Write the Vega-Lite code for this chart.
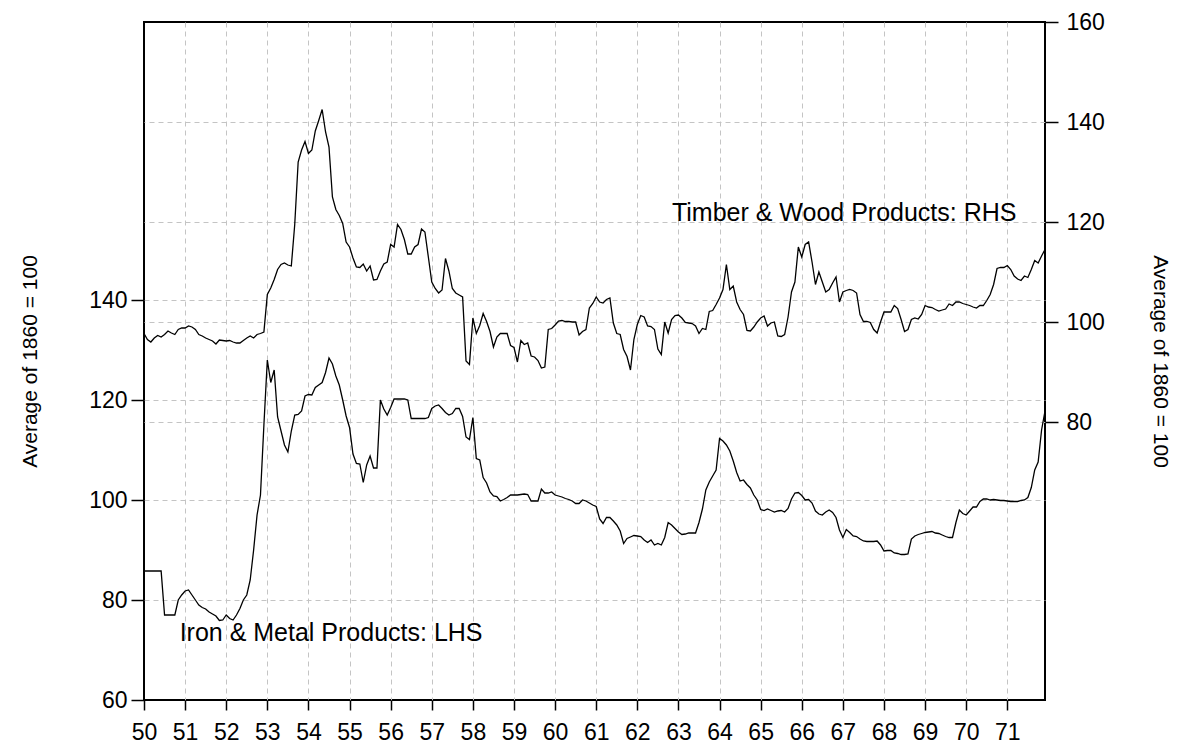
{
  "$schema": "https://vega.github.io/schema/vega-lite/v6.json",
  "width": 901,
  "height": 678,
  "autosize": {"type": "none"},
  "padding": {"left": 144, "top": 22, "right": 137, "bottom": 44},
  "background": "white",
  "config": {
    "view": {"stroke": "black", "strokeWidth": 2},
    "font": "Liberation Sans",
    "axis": {
      "labelFont": "Liberation Sans", "labelFontSize": 23, "labelColor": "black",
      "titleFont": "Liberation Sans", "titleFontSize": 21, "titleFontWeight": "normal", "titleColor": "black",
      "tickColor": "black", "tickWidth": 1.5, "domain": false,
      "gridColor": "#c4c4c4", "gridDash": [5, 4], "gridWidth": 1,
      "labelOverlap": false, "labelFlush": false
    }
  },
  "datasets": {
    "series": [
      {"m":0,"iron":85.8,"timber":97.7},{"m":1,"iron":85.8,"timber":96.5},{"m":2,"iron":85.8,"timber":96.0},{"m":3,"iron":85.8,"timber":96.8},{"m":4,"iron":85.8,"timber":97.3},{"m":5,"iron":85.8,"timber":97.0},{"m":6,"iron":77.0,"timber":97.5},{"m":7,"iron":77.0,"timber":98.2},{"m":8,"iron":77.0,"timber":97.8},{"m":9,"iron":77.0,"timber":97.5},{"m":10,"iron":80.0,"timber":98.5},{"m":11,"iron":81.0,"timber":98.8},
      {"m":12,"iron":81.8,"timber":98.8},{"m":13,"iron":82.0,"timber":99.2},{"m":14,"iron":81.0,"timber":99.0},{"m":15,"iron":80.0,"timber":98.5},{"m":16,"iron":79.0,"timber":97.5},{"m":17,"iron":78.5,"timber":97.2},{"m":18,"iron":78.2,"timber":96.8},{"m":19,"iron":77.6,"timber":96.5},{"m":20,"iron":77.2,"timber":96.2},{"m":21,"iron":76.8,"timber":95.6},{"m":22,"iron":75.9,"timber":96.4},{"m":23,"iron":76.0,"timber":96.3},
      {"m":24,"iron":77.0,"timber":96.2},{"m":25,"iron":76.3,"timber":96.3},{"m":26,"iron":76.0,"timber":96.0},{"m":27,"iron":77.0,"timber":95.8},{"m":28,"iron":78.3,"timber":95.8},{"m":29,"iron":80.0,"timber":96.3},{"m":30,"iron":81.0,"timber":96.8},{"m":31,"iron":84.0,"timber":97.2},{"m":32,"iron":90.0,"timber":96.8},{"m":33,"iron":97.0,"timber":97.5},{"m":34,"iron":101.0,"timber":97.7},{"m":35,"iron":115.0,"timber":98.0},
      {"m":36,"iron":128.0,"timber":105.5},{"m":37,"iron":123.5,"timber":106.8},{"m":38,"iron":126.0,"timber":108.5},{"m":39,"iron":116.6,"timber":110.5},{"m":40,"iron":113.8,"timber":111.5},{"m":41,"iron":111.0,"timber":111.8},{"m":42,"iron":109.6,"timber":111.4},{"m":43,"iron":113.8,"timber":111.2},{"m":44,"iron":117.0,"timber":119.5},{"m":45,"iron":117.1,"timber":132.0},{"m":46,"iron":117.8,"timber":134.4},{"m":47,"iron":120.8,"timber":136.1},
      {"m":48,"iron":121.1,"timber":133.7},{"m":49,"iron":121.0,"timber":134.4},{"m":50,"iron":122.5,"timber":138.2},{"m":51,"iron":123.0,"timber":140.3},{"m":52,"iron":123.5,"timber":142.5},{"m":53,"iron":125.5,"timber":138.0},{"m":54,"iron":128.4,"timber":135.0},{"m":55,"iron":127.2,"timber":125.0},{"m":56,"iron":124.8,"timber":122.5},{"m":57,"iron":123.0,"timber":121.3},{"m":58,"iron":120.0,"timber":119.7},{"m":59,"iron":116.8,"timber":116.0},
      {"m":60,"iron":114.5,"timber":115.0},{"m":61,"iron":109.2,"timber":112.8},{"m":62,"iron":107.3,"timber":111.0},{"m":63,"iron":107.2,"timber":110.9},{"m":64,"iron":103.5,"timber":111.6},{"m":65,"iron":107.0,"timber":110.2},{"m":66,"iron":108.8,"timber":111.2},{"m":67,"iron":106.4,"timber":108.4},{"m":68,"iron":106.4,"timber":108.5},{"m":69,"iron":120.0,"timber":110.2},{"m":70,"iron":118.2,"timber":111.6},{"m":71,"iron":117.0,"timber":112.0},
      {"m":72,"iron":118.5,"timber":115.5},{"m":73,"iron":120.2,"timber":115.0},{"m":74,"iron":120.2,"timber":119.5},{"m":75,"iron":120.2,"timber":118.5},{"m":76,"iron":120.2,"timber":116.5},{"m":77,"iron":120.0,"timber":113.6},{"m":78,"iron":116.3,"timber":113.6},{"m":79,"iron":116.3,"timber":115.0},{"m":80,"iron":116.3,"timber":115.5},{"m":81,"iron":116.3,"timber":118.6},{"m":82,"iron":116.3,"timber":118.0},{"m":83,"iron":116.5,"timber":113.0},
      {"m":84,"iron":118.3,"timber":108.0},{"m":85,"iron":118.8,"timber":106.7},{"m":86,"iron":119.0,"timber":105.8},{"m":87,"iron":118.3,"timber":106.4},{"m":88,"iron":117.5,"timber":112.7},{"m":89,"iron":117.0,"timber":110.2},{"m":90,"iron":117.3,"timber":106.7},{"m":91,"iron":118.3,"timber":105.8},{"m":92,"iron":118.3,"timber":105.4},{"m":93,"iron":116.7,"timber":105.0},{"m":94,"iron":112.6,"timber":92.2},{"m":95,"iron":112.1,"timber":91.5},
      {"m":96,"iron":116.5,"timber":100.8},{"m":97,"iron":108.3,"timber":97.7},{"m":98,"iron":108.0,"timber":99.3},{"m":99,"iron":104.5,"timber":101.7},{"m":100,"iron":103.4,"timber":100.1},{"m":101,"iron":101.6,"timber":98.1},{"m":102,"iron":100.8,"timber":95.0},{"m":103,"iron":100.7,"timber":97.0},{"m":104,"iron":99.8,"timber":97.7},{"m":105,"iron":100.1,"timber":97.7},{"m":106,"iron":100.5,"timber":97.7},{"m":107,"iron":101.0,"timber":95.3},
      {"m":108,"iron":101.0,"timber":94.9},{"m":109,"iron":101.0,"timber":92.0},{"m":110,"iron":101.1,"timber":96.3},{"m":111,"iron":101.2,"timber":95.5},{"m":112,"iron":101.1,"timber":95.8},{"m":113,"iron":99.8,"timber":93.2},{"m":114,"iron":99.8,"timber":93.0},{"m":115,"iron":99.8,"timber":92.3},{"m":116,"iron":102.2,"timber":90.8},{"m":117,"iron":101.4,"timber":91.0},{"m":118,"iron":101.4,"timber":98.5},{"m":119,"iron":101.6,"timber":98.7},
      {"m":120,"iron":101.0,"timber":99.4},{"m":121,"iron":100.8,"timber":100.2},{"m":122,"iron":100.6,"timber":100.3},{"m":123,"iron":100.3,"timber":100.1},{"m":124,"iron":100.1,"timber":100.1},{"m":125,"iron":99.8,"timber":100.0},{"m":126,"iron":99.3,"timber":100.0},{"m":127,"iron":99.3,"timber":97.4},{"m":128,"iron":100.0,"timber":98.1},{"m":129,"iron":99.8,"timber":98.5},{"m":130,"iron":99.4,"timber":102.8},{"m":131,"iron":99.0,"timber":103.7},
      {"m":132,"iron":98.7,"timber":105.0},{"m":133,"iron":96.2,"timber":104.0},{"m":134,"iron":95.3,"timber":103.8},{"m":135,"iron":96.5,"timber":104.5},{"m":136,"iron":96.5,"timber":104.8},{"m":137,"iron":95.8,"timber":99.8},{"m":138,"iron":95.0,"timber":97.7},{"m":139,"iron":93.8,"timber":97.5},{"m":140,"iron":91.3,"timber":94.5},{"m":141,"iron":92.3,"timber":93.1},{"m":142,"iron":92.6,"timber":90.4},{"m":143,"iron":92.9,"timber":96.5},
      {"m":144,"iron":92.8,"timber":99.5},{"m":145,"iron":92.7,"timber":101.3},{"m":146,"iron":92.0,"timber":101.0},{"m":147,"iron":91.5,"timber":99.2},{"m":148,"iron":92.0,"timber":99.1},{"m":149,"iron":91.0,"timber":98.5},{"m":150,"iron":91.3,"timber":94.6},{"m":151,"iron":91.0,"timber":93.5},{"m":152,"iron":92.5,"timber":100.0},{"m":153,"iron":95.5,"timber":97.8},{"m":154,"iron":95.0,"timber":100.5},{"m":155,"iron":94.3,"timber":101.3},
      {"m":156,"iron":93.6,"timber":101.4},{"m":157,"iron":93.1,"timber":100.8},{"m":158,"iron":93.2,"timber":99.9},{"m":159,"iron":93.4,"timber":99.8},{"m":160,"iron":93.4,"timber":99.7},{"m":161,"iron":93.4,"timber":99.2},{"m":162,"iron":95.5,"timber":97.7},{"m":163,"iron":98.2,"timber":98.7},{"m":164,"iron":102.0,"timber":98.5},{"m":165,"iron":103.6,"timber":102.1},{"m":166,"iron":104.8,"timber":102.3},{"m":167,"iron":106.0,"timber":103.5},
      {"m":168,"iron":112.3,"timber":104.8},{"m":169,"iron":111.8,"timber":106.5},{"m":170,"iron":111.0,"timber":111.5},{"m":171,"iron":109.8,"timber":106.5},{"m":172,"iron":107.8,"timber":107.2},{"m":173,"iron":105.5,"timber":104.0},{"m":174,"iron":103.8,"timber":102.5},{"m":175,"iron":104.0,"timber":101.5},{"m":176,"iron":103.1,"timber":98.3},{"m":177,"iron":102.4,"timber":98.2},{"m":178,"iron":101.0,"timber":99.0},{"m":179,"iron":100.0,"timber":100.0},
      {"m":180,"iron":98.1,"timber":100.8},{"m":181,"iron":97.9,"timber":101.2},{"m":182,"iron":98.2,"timber":99.2},{"m":183,"iron":97.9,"timber":99.8},{"m":184,"iron":97.6,"timber":100.0},{"m":185,"iron":97.8,"timber":97.2},{"m":186,"iron":97.9,"timber":97.1},{"m":187,"iron":97.6,"timber":97.5},{"m":188,"iron":98.3,"timber":101.0},{"m":189,"iron":100.2,"timber":106.0},{"m":190,"iron":101.4,"timber":108.0},{"m":191,"iron":101.5,"timber":115.0},
      {"m":192,"iron":100.9,"timber":113.0},{"m":193,"iron":100.0,"timber":115.5},{"m":194,"iron":100.1,"timber":116.0},{"m":195,"iron":99.4,"timber":112.0},{"m":196,"iron":97.8,"timber":107.5},{"m":197,"iron":97.2,"timber":110.0},{"m":198,"iron":97.0,"timber":108.0},{"m":199,"iron":97.6,"timber":106.0},{"m":200,"iron":98.0,"timber":106.5},{"m":201,"iron":97.5,"timber":107.8},{"m":202,"iron":96.5,"timber":109.0},{"m":203,"iron":94.0,"timber":104.0},
      {"m":204,"iron":92.5,"timber":106.0},{"m":205,"iron":94.1,"timber":106.3},{"m":206,"iron":93.5,"timber":106.5},{"m":207,"iron":92.8,"timber":106.3},{"m":208,"iron":92.7,"timber":105.8},{"m":209,"iron":92.2,"timber":101.5},{"m":210,"iron":91.8,"timber":100.1},{"m":211,"iron":91.7,"timber":100.1},{"m":212,"iron":91.7,"timber":99.9},{"m":213,"iron":91.7,"timber":98.5},{"m":214,"iron":91.8,"timber":97.8},{"m":215,"iron":91.0,"timber":100.0},
      {"m":216,"iron":89.8,"timber":102.0},{"m":217,"iron":89.9,"timber":102.0},{"m":218,"iron":89.9,"timber":102.0},{"m":219,"iron":89.4,"timber":103.3},{"m":220,"iron":89.3,"timber":102.7},{"m":221,"iron":89.1,"timber":100.5},{"m":222,"iron":89.1,"timber":98.1},{"m":223,"iron":89.2,"timber":98.5},{"m":224,"iron":92.2,"timber":100.5},{"m":225,"iron":92.8,"timber":100.8},{"m":226,"iron":93.1,"timber":100.6},{"m":227,"iron":93.3,"timber":101.5},
      {"m":228,"iron":93.5,"timber":103.3},{"m":229,"iron":93.6,"timber":103.0},{"m":230,"iron":93.7,"timber":102.9},{"m":231,"iron":93.4,"timber":102.5},{"m":232,"iron":93.3,"timber":102.2},{"m":233,"iron":93.0,"timber":102.4},{"m":234,"iron":92.7,"timber":102.6},{"m":235,"iron":92.5,"timber":103.6},{"m":236,"iron":92.5,"timber":103.3},{"m":237,"iron":95.5,"timber":104.0},{"m":238,"iron":98.0,"timber":104.0},{"m":239,"iron":97.3,"timber":103.7},
      {"m":240,"iron":97.0,"timber":103.5},{"m":241,"iron":97.8,"timber":103.3},{"m":242,"iron":98.6,"timber":103.0},{"m":243,"iron":98.6,"timber":102.8},{"m":244,"iron":99.7,"timber":103.3},{"m":245,"iron":100.2,"timber":103.3},{"m":246,"iron":100.2,"timber":104.3},{"m":247,"iron":100.0,"timber":105.5},{"m":248,"iron":100.1,"timber":107.5},{"m":249,"iron":100.0,"timber":110.7},{"m":250,"iron":99.9,"timber":110.9},{"m":251,"iron":99.9,"timber":110.9},
      {"m":252,"iron":99.8,"timber":111.3},{"m":253,"iron":99.7,"timber":110.5},{"m":254,"iron":99.7,"timber":109.2},{"m":255,"iron":99.7,"timber":108.6},{"m":256,"iron":99.9,"timber":108.3},{"m":257,"iron":100.0,"timber":109.2},{"m":258,"iron":100.5,"timber":108.9},{"m":259,"iron":102.5,"timber":110.5},{"m":260,"iron":106.0,"timber":112.3},{"m":261,"iron":107.6,"timber":111.8},{"m":262,"iron":114.0,"timber":113.2},{"m":263,"iron":117.8,"timber":114.5}
    ],
    "ironLabel": [{"m": 10.4, "iron": 73.4, "label": "Iron & Metal Products: LHS"}],
    "timberLabel": [{"m": 154.1, "timber": 121.8, "label": "Timber & Wood Products: RHS"}]
  },
  "encoding": {
    "x": {
      "field": "m", "type": "quantitative",
      "scale": {"domain": [0, 263], "nice": false, "zero": false},
      "axis": {
        "title": null,
        "values": [0,12,24,36,48,60,72,84,96,108,120,132,144,156,168,180,192,204,216,228,240,252],
        "labelExpr": "format(50 + datum.value / 12, 'd')",
        "tickSize": 10, "labelPadding": 11, "grid": true,
        "gridOpacity": {"condition": {"test": "datum.value === 0", "value": 0}, "value": 1}
      }
    }
  },
  "layer": [
    {
      "layer": [
        {
          "data": {"name": "series"},
          "mark": {"type": "line", "color": "black", "strokeWidth": 1.3},
          "encoding": {
            "y": {
              "field": "iron", "type": "quantitative",
              "scale": {"domain": [60, 195.6], "nice": false, "zero": false},
              "axis": {
                "title": "Average of 1860 = 100", "orient": "left",
                "values": [60, 80, 100, 120, 140],
                "tickSize": 13, "labelPadding": 4, "titlePadding": 48, "grid": true,
                "gridOpacity": {"condition": {"test": "datum.value === 60", "value": 0}, "value": 1}
              }
            }
          }
        },
        {
          "data": {"name": "ironLabel"},
          "mark": {"type": "text", "align": "left", "baseline": "middle", "font": "Liberation Sans", "fontSize": 25, "color": "black"},
          "encoding": {
            "y": {"field": "iron", "type": "quantitative"},
            "text": {"field": "label"}
          }
        }
      ]
    },
    {
      "layer": [
        {
          "data": {"name": "series"},
          "mark": {"type": "line", "color": "black", "strokeWidth": 1.3},
          "encoding": {
            "y": {
              "field": "timber", "type": "quantitative",
              "scale": {"domain": [24.4, 160], "nice": false, "zero": false},
              "axis": {
                "title": "Average of 1860 = 100", "orient": "right",
                "values": [80, 100, 120, 140, 160],
                "tickSize": 13, "labelPadding": 8, "titlePadding": 45, "grid": true,
                "gridOpacity": {"condition": {"test": "datum.value === 160", "value": 0}, "value": 1}
              }
            }
          }
        },
        {
          "data": {"name": "timberLabel"},
          "mark": {"type": "text", "align": "left", "baseline": "middle", "font": "Liberation Sans", "fontSize": 25, "color": "black"},
          "encoding": {
            "y": {"field": "timber", "type": "quantitative"},
            "text": {"field": "label"}
          }
        }
      ]
    }
  ],
  "resolve": {"scale": {"y": "independent"}, "axis": {"y": "independent"}}
}
